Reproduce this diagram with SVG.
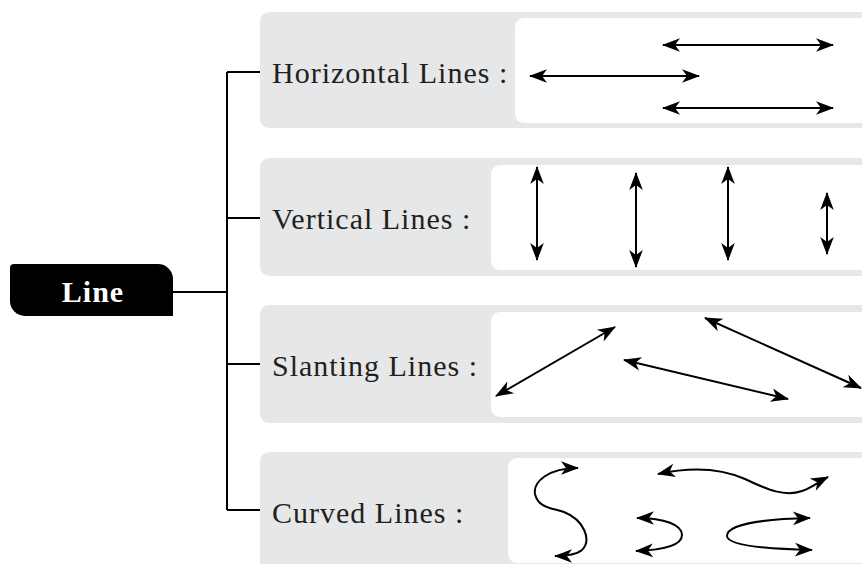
<svg xmlns="http://www.w3.org/2000/svg" width="862" height="564" viewBox="0 0 862 564">
  <style>
    .band { fill: #e6e7e8; }
    .card { fill: #ffffff; }
    .label { font-family: "Liberation Serif", "DejaVu Serif", serif; font-size: 30px; letter-spacing: 1px; fill: #231f20; }
    .root { font-family: "Liberation Serif", "DejaVu Serif", serif; font-size: 30px; letter-spacing: 1px; font-weight: bold; fill: #ffffff; }
    .tree { fill: none; stroke: #000; stroke-width: 2; }
    .arr { fill: none; stroke: #000; stroke-width: 2; marker-start: url(#head); marker-end: url(#head); }
  </style>
  <defs>
    <!-- barbed arrowhead, tip at the path end point -->
    <marker id="head" markerUnits="userSpaceOnUse" markerWidth="24" markerHeight="18" viewBox="-20 -9 22 18" refX="0" refY="0" orient="auto-start-reverse">
      <path d="M1,0 L-17,-6.8 L-12,0 L-17,6.8 Z" fill="#000"/>
    </marker>
  </defs>

  <g id="connectors">
    <path class="tree" d="M173,292 H227"/>
    <path class="tree" d="M227,72 V510"/>
    <path class="tree" d="M227,72 H260"/>
    <path class="tree" d="M227,218 H260"/>
    <path class="tree" d="M227,364 H260"/>
    <path class="tree" d="M227,510 H260"/>
  </g>

  <g id="line">
    <path d="M10,268 Q10,264 14,264 L158,264 A15,15 0 0 1 173,279 L173,316 L25,316 A15,15 0 0 1 10,301 Z" fill="#000"/>
    <text class="root" x="93" y="302" text-anchor="middle">Line</text>
  </g>

  <g id="horizontal-lines">
    <rect class="band" x="260" y="12" width="620" height="116" rx="9"/>
    <rect class="card" x="515" y="18" width="360" height="105" rx="9"/>
    <text class="label" x="272" y="83">Horizontal Lines :</text>
    <path class="arr" d="M663,45 H833"/>
    <path class="arr" d="M530,76 H699"/>
    <path class="arr" d="M663,108 H833"/>
  </g>

  <g id="vertical-lines">
    <rect class="band" x="260" y="158" width="620" height="118" rx="9"/>
    <rect class="card" x="491" y="165" width="390" height="105" rx="9"/>
    <text class="label" x="272" y="229">Vertical Lines :</text>
    <path class="arr" d="M537,167 V260"/>
    <path class="arr" d="M636,173 V267"/>
    <path class="arr" d="M728,167 V260"/>
    <path class="arr" d="M827,193 V254"/>
  </g>

  <g id="slanting-lines">
    <rect class="band" x="260" y="305" width="620" height="118" rx="9"/>
    <rect class="card" x="491" y="312" width="390" height="105" rx="9"/>
    <text class="label" x="272" y="376">Slanting Lines :</text>
    <path class="arr" d="M496,396 L615,327"/>
    <path class="arr" d="M624,360 L788,399"/>
    <path class="arr" d="M705,318 L861,388"/>
  </g>

  <g id="curved-lines">
    <rect class="band" x="260" y="452" width="620" height="130" rx="9"/>
    <rect class="card" x="508" y="458" width="380" height="105" rx="9"/>
    <text class="label" x="272" y="523">Curved Lines :</text>
    <path class="arr" d="M578,468 C548,468 533,482 535,494 C538,508 552,508 564,512 C584,520 592,540 582,550 C576,555 566,556 555,556"/>
    <path class="arr" d="M658,474 C690,467 720,468 745,479 C768,490 785,497 802,491 C813,487 820,481 828,477"/>
    <path class="arr" d="M637,518 C665,518 682,525 682,535 C682,546 662,550 636,551"/>
    <path class="arr" d="M810,518 C760,519 727,525 727,536 C727,546 770,549 812,550"/>
  </g>
</svg>
